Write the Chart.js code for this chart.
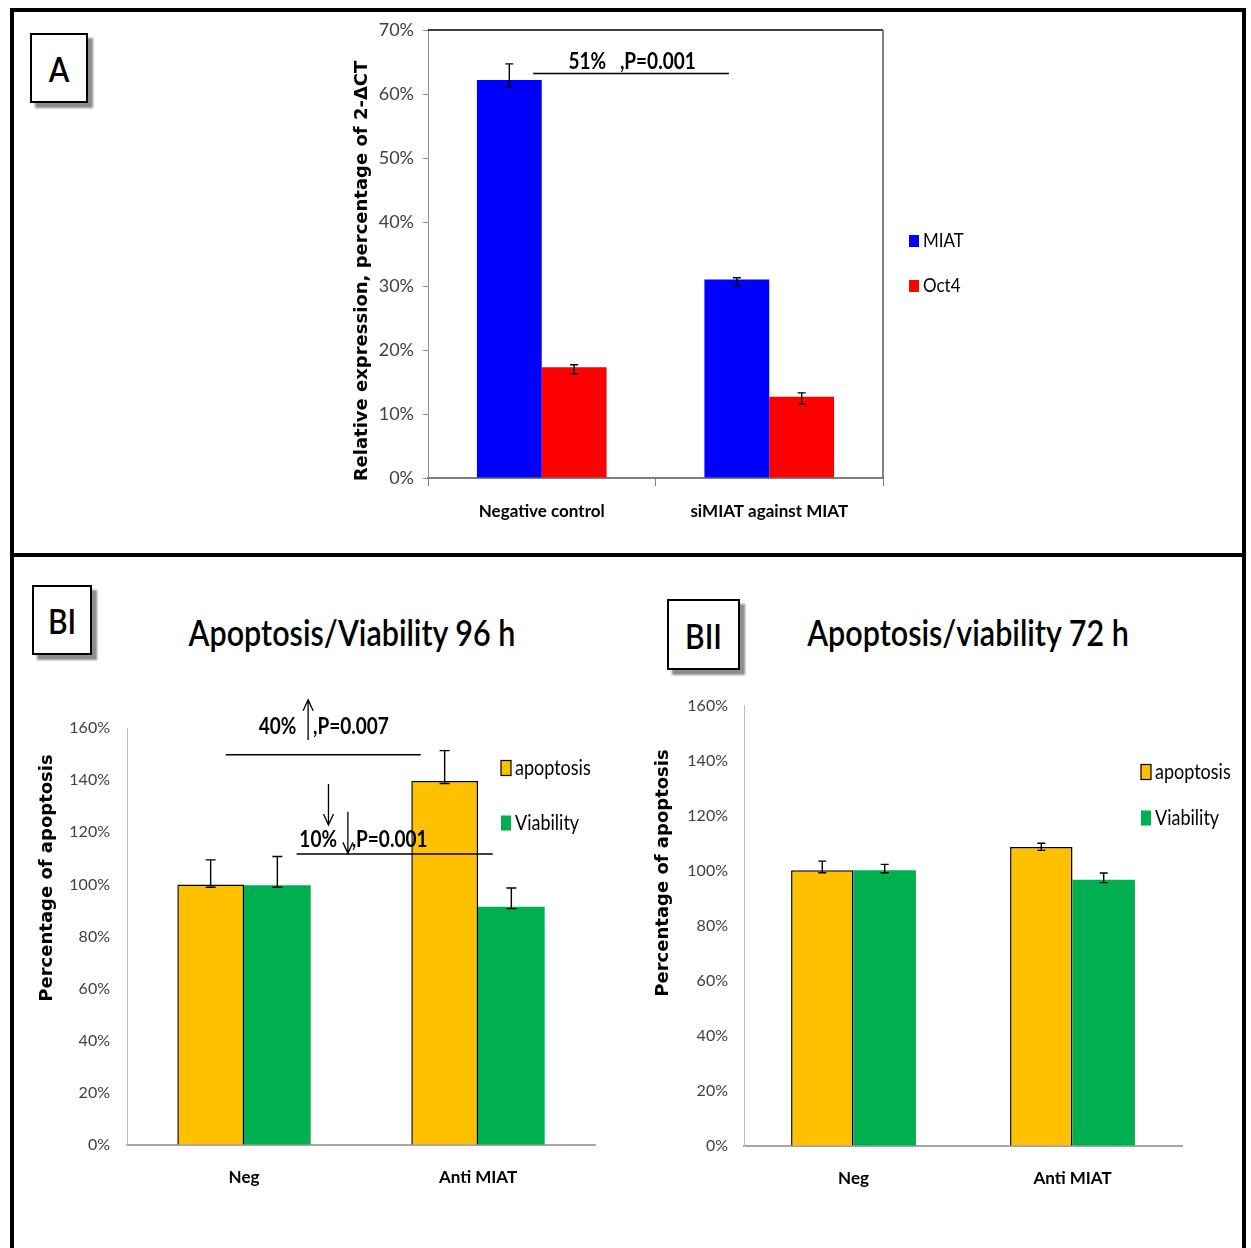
<!DOCTYPE html>
<html>
<head>
<meta charset="utf-8">
<script src="https://cdn.jsdelivr.net/npm/chart.js@4.4.1/dist/chart.umd.min.js"></script>
<style>
  body { margin: 0; background: #fff; }
  #page { position: relative; width: 1251px; height: 1248px; overflow: hidden; background: #fff; }
  .rule { position: absolute; background: #000; }
  .tag {
    position: absolute; box-sizing: border-box; background: #fff;
    border: 2px solid #000; box-shadow: 5px 5px 2px #8c8c8c;
    display: flex; align-items: center; justify-content: center;
    font-family: Lato, sans-serif; font-weight: 600;
    font-size: 30px; color: #000;
  }
  .tag span { display: inline-block; transform: scaleY(1.15); }
  .title {
    position: absolute; transform: translate(-50%, -50%) scaleY(1.2); white-space: nowrap;
    font-family: Lato, sans-serif; font-weight: 600;
    font-size: 30.5px; color: #000;
  }
  .box { position: absolute; }
</style>
</head>
<body>
<div id="page">
  <div class="rule" style="left:10px;top:8px;width:1236px;height:4px"></div>
  <div class="rule" style="left:10px;top:8px;width:4px;height:1240px"></div>
  <div class="rule" style="left:1242px;top:8px;width:4px;height:1240px"></div>
  <div class="rule" style="left:10px;top:553px;width:1236px;height:4px"></div>

  <div class="box" style="left:330px;top:10px"><canvas id="chartA" width="650" height="535"></canvas></div>
  <div class="box" style="left:15px;top:680px"><canvas id="chart96" width="615" height="550"></canvas></div>
  <div class="box" style="left:637px;top:680px"><canvas id="chart72" width="604" height="550"></canvas></div>

  <div class="tag" style="left:30px;top:33px;width:58px;height:70px"><span>A</span></div>
  <div class="tag" style="left:32px;top:585px;width:60px;height:70px"><span>BI</span></div>
  <div class="tag" style="left:667px;top:599px;width:73px;height:71px"><span>BII</span></div>

  <div class="title" style="left:352px;top:632px">Apoptosis/Viability 96 h</div>
  <div class="title" style="left:968px;top:632px">Apoptosis/viability 72 h</div>
</div>

<script>
// Panel A: relative expression (percent)
const aCategories = ['Negative control', 'siMIAT against MIAT'];
const aMiat = [62.2, 31.0];
const aMiatPlus = [2.5, 0.3];
const aMiatMinus = [1.1, 1.0];
const aOct4 = [17.3, 12.7];
const aOct4Plus = [0.4, 0.6];
const aOct4Minus = [1.0, 1.2];
const aTicks = [0, 10, 20, 30, 40, 50, 60, 70];

// Panel BI: apoptosis / viability 96 h
const bCategories = ['Neg', 'Anti MIAT'];
const b96Apoptosis = [100.0, 139.7];
const b96ApoptosisPlus = [9.4, 11.6];
const b96ApoptosisMinus = [1.1, 1.0];
const b96Viability = [99.7, 91.4];
const b96ViabilityPlus = [11.0, 7.2];
const b96ViabilityMinus = [0.8, 0.7];

// Panel BII: apoptosis / viability 72 h
const b72Apoptosis = [100.2, 108.6];
const b72ApoptosisPlus = [3.3, 1.4];
const b72ApoptosisMinus = [0.9, 1.2];
const b72Viability = [100.2, 96.7];
const b72ViabilityPlus = [2.1, 2.5];
const b72ViabilityMinus = [0.9, 1.0];
const bTicks = [0, 20, 40, 60, 80, 100, 120, 140, 160];

const NARROW = "Lato, sans-serif";
const WIDE = "'DejaVu Sans', Verdana, sans-serif";

// text squeezed a little taller, like the stretched original
function tallText(ctx, text, x, y, sy) {
  ctx.save();
  ctx.translate(x, y);
  ctx.scale(1, sy);
  ctx.fillText(text, 0, 0);
  ctx.restore();
}

// error bars, axis title, legend and the p-value notes
function makeDecor(cfg) {
  return {
    id: 'decor',
    afterDatasetsDraw(chart) {
      const ctx = chart.ctx, ys = chart.scales.y;
      ctx.save();
      ctx.strokeStyle = '#000';
      ctx.lineWidth = 1.4;
      chart.data.datasets.forEach((ds, di) => {
        chart.getDatasetMeta(di).data.forEach((bar, i) => {
          const top = ys.getPixelForValue(ds.data[i] + ds.errPlus[i]);
          const bot = ys.getPixelForValue(ds.data[i] - ds.errMinus[i]);
          const c = cfg.cap / 2;
          ctx.beginPath();
          ctx.moveTo(bar.x, top); ctx.lineTo(bar.x, bot);
          ctx.moveTo(bar.x - c, top); ctx.lineTo(bar.x + c, top);
          ctx.moveTo(bar.x - c, bot); ctx.lineTo(bar.x + c, bot);
          ctx.stroke();
        });
      });
      ctx.restore();
    },
    afterDraw(chart) {
      const ctx = chart.ctx, xs = chart.scales.x, ys = chart.scales.y, area = chart.chartArea;
      ctx.save();
      if (cfg.frame) {
        ctx.lineWidth = 1.5;
        ctx.strokeStyle = '#000';
        ctx.beginPath(); ctx.moveTo(area.left, area.top); ctx.lineTo(area.right, area.top); ctx.stroke();
        ctx.strokeStyle = '#595959';
        ctx.beginPath(); ctx.moveTo(area.right, area.top); ctx.lineTo(area.right, area.bottom); ctx.stroke();
      }
      // y title
      ctx.save();
      ctx.translate(cfg.yTitle.x, cfg.yTitle.y);
      ctx.rotate(-Math.PI / 2);
      ctx.font = 'bold ' + cfg.yTitle.size + 'px ' + WIDE;
      ctx.fillStyle = '#000';
      ctx.textAlign = 'center'; ctx.textBaseline = 'middle';
      ctx.fillText(cfg.yTitle.text, 0, 0);
      ctx.restore();
      // legend
      ctx.font = cfg.legend.size + 'px ' + NARROW;
      ctx.textBaseline = 'middle'; ctx.textAlign = 'left';
      chart.data.datasets.forEach((ds, i) => {
        const ly = cfg.legend.y[i];
        ctx.fillStyle = ds.backgroundColor;
        ctx.fillRect(cfg.legend.x, ly - cfg.legend.h / 2, cfg.legend.w, cfg.legend.h);
        if (ds.borderWidth) {
          ctx.strokeStyle = '#000'; ctx.lineWidth = 1.2;
          ctx.strokeRect(cfg.legend.x, ly - cfg.legend.h / 2, cfg.legend.w, cfg.legend.h);
        }
        ctx.fillStyle = '#000';
        tallText(ctx, ds.label, cfg.legend.x + cfg.legend.w + 4, ly, 1.15);
      });
      // notes
      ctx.strokeStyle = '#000'; ctx.lineWidth = 1.5;
      (cfg.lines || []).forEach(l => {
        const yy = ys.getPixelForValue(l.y);
        ctx.beginPath(); ctx.moveTo(xs.getPixelForValue(l.x0), yy); ctx.lineTo(xs.getPixelForValue(l.x1), yy); ctx.stroke();
      });
      ctx.lineWidth = 1.3;
      (cfg.arrows || []).forEach(a => {
        const ax = xs.getPixelForValue(a.x), y0 = ys.getPixelForValue(a.y0), y1 = ys.getPixelForValue(a.y1);
        const d = y1 > y0 ? -1 : 1;
        ctx.beginPath();
        ctx.moveTo(ax, y0); ctx.lineTo(ax, y1);
        ctx.moveTo(ax - 5, y1 + d * 11); ctx.lineTo(ax, y1); ctx.lineTo(ax + 5, y1 + d * 11);
        ctx.stroke();
      });
      ctx.fillStyle = '#000';
      ctx.textBaseline = 'middle';
      (cfg.notes || []).forEach(n => {
        ctx.font = 'bold ' + n.size + 'px ' + NARROW;
        ctx.textAlign = n.align || 'center';
        tallText(ctx, n.text, xs.getPixelForValue(n.x), ys.getPixelForValue(n.y), 1.2);
      });
      ctx.restore();
    }
  };
}

function yAxis(ticks, width, pad, tickLen, size) {
  return {
    min: ticks[0], max: ticks[ticks.length - 1],
    afterFit: s => { s.width = width; },
    afterBuildTicks: s => { s.ticks = ticks.map(v => ({ value: v })); },
    ticks: { padding: pad, color: '#404040', font: { family: NARROW, size: size }, callback: v => v + '%' },
    grid: { drawOnChartArea: false, drawTicks: tickLen > 0, tickLength: tickLen, color: '#8c8c8c' },
    border: { color: tickLen > 0 ? '#8c8c8c' : '#bfbfbf', width: 1 }
  };
}

function xAxis(height, pad, tickLen, borderColor) {
  return {
    afterFit: s => { s.height = height; },
    ticks: { padding: pad, color: '#000', font: { family: NARROW, size: 17, weight: 'bold' } },
    grid: { drawOnChartArea: false, drawTicks: tickLen > 0, tickLength: tickLen, offset: true, color: '#7f7f7f' },
    border: { color: borderColor, width: 2 }
  };
}

const common = {
  responsive: false,
  animation: false,
  plugins: { legend: { display: false }, tooltip: { enabled: false } }
};

new Chart(document.getElementById('chartA'), {
  type: 'bar',
  data: {
    labels: aCategories,
    datasets: [
      { label: 'MIAT', data: aMiat, errPlus: aMiatPlus, errMinus: aMiatMinus, backgroundColor: '#0000ff',
        borderWidth: 0, categoryPercentage: 0.57, barPercentage: 1 },
      { label: 'Oct4', data: aOct4, errPlus: aOct4Plus, errMinus: aOct4Minus, backgroundColor: '#ff0000',
        borderWidth: 0, categoryPercentage: 0.57, barPercentage: 1 }
    ]
  },
  options: Object.assign({}, common, {
    layout: { padding: { top: 20, right: 97, left: 0, bottom: 0 } },
    scales: { x: xAxis(67, 15, 8, '#7f7f7f'), y: yAxis(aTicks, 98, 9, 5, 18) }
  }),
  plugins: [makeDecor({
    cap: 8, frame: true,
    yTitle: { text: 'Relative expression, percentage of 2-\u0394CT', x: 32, y: 261, size: 18 },
    legend: { x: 579, w: 10, h: 12, y: [231, 276], size: 17 },
    lines: [{ x0: -0.038, x1: 0.823, y: 63.2 }],
    notes: [{ text: '51%   ,P=0.001', x: 0.397, y: 65.0, size: 19 }]
  })]
});

new Chart(document.getElementById('chart96'), {
  type: 'bar',
  data: {
    labels: bCategories,
    datasets: [
      { label: 'apoptosis', data: b96Apoptosis, errPlus: b96ApoptosisPlus, errMinus: b96ApoptosisMinus,
        backgroundColor: '#ffc000', borderColor: '#000', borderWidth: 1.5, categoryPercentage: 0.57, barPercentage: 1 },
      { label: 'Viability', data: b96Viability, errPlus: b96ViabilityPlus, errMinus: b96ViabilityMinus,
        backgroundColor: '#00b050', borderWidth: 0, categoryPercentage: 0.57, barPercentage: 1 }
    ]
  },
  options: Object.assign({}, common, {
    layout: { padding: { top: 48, right: 35, left: 0, bottom: 0 } },
    scales: { x: xAxis(85, 22, 0, '#a6a6a6'), y: yAxis(bTicks, 112, 17, 0, 16) }
  }),
  plugins: [makeDecor({
    cap: 10,
    yTitle: { text: 'Percentage of apoptosis', x: 32, y: 198, size: 18 },
    legend: { x: 486, w: 10, h: 15, y: [88, 143], size: 18 },
    lines: [{ x0: -0.078, x1: 0.755, y: 149.7 }, { x0: 0.225, x1: 1.063, y: 111.7 }],
    arrows: [{ x: 0.274, y0: 155.4, y1: 170.8 }, { x: 0.361, y0: 138.5, y1: 122.8 }, { x: 0.444, y0: 127.9, y1: 111.9 }],
    notes: [
      { text: '40%', x: 0.143, y: 160.5, size: 19 },
      { text: ',P=0.007', x: 0.295, y: 160.5, size: 19, align: 'left' },
      { text: '10%', x: 0.317, y: 117.0, size: 19 },
      { text: ',P=0.001', x: 0.46, y: 117.0, size: 19, align: 'left' }
    ]
  })]
});

new Chart(document.getElementById('chart72'), {
  type: 'bar',
  data: {
    labels: bCategories,
    datasets: [
      { label: 'apoptosis', data: b72Apoptosis, errPlus: b72ApoptosisPlus, errMinus: b72ApoptosisMinus,
        backgroundColor: '#ffc000', borderColor: '#000', borderWidth: 1.5, categoryPercentage: 0.57, barPercentage: 1 },
      { label: 'Viability', data: b72Viability, errPlus: b72ViabilityPlus, errMinus: b72ViabilityMinus,
        backgroundColor: '#00b050', borderWidth: 0, categoryPercentage: 0.57, barPercentage: 1 }
    ]
  },
  options: Object.assign({}, common, {
    layout: { padding: { top: 24, right: 59, left: 0, bottom: 0 } },
    scales: { x: xAxis(84, 22, 0, '#a6a6a6'), y: yAxis(bTicks, 107, 16, 0, 16) }
  }),
  plugins: [makeDecor({
    cap: 8,
    yTitle: { text: 'Percentage of apoptosis', x: 26, y: 193, size: 18 },
    legend: { x: 504, w: 10, h: 15, y: [92, 138], size: 18 }
  })]
});
</script>
</body>
</html>
